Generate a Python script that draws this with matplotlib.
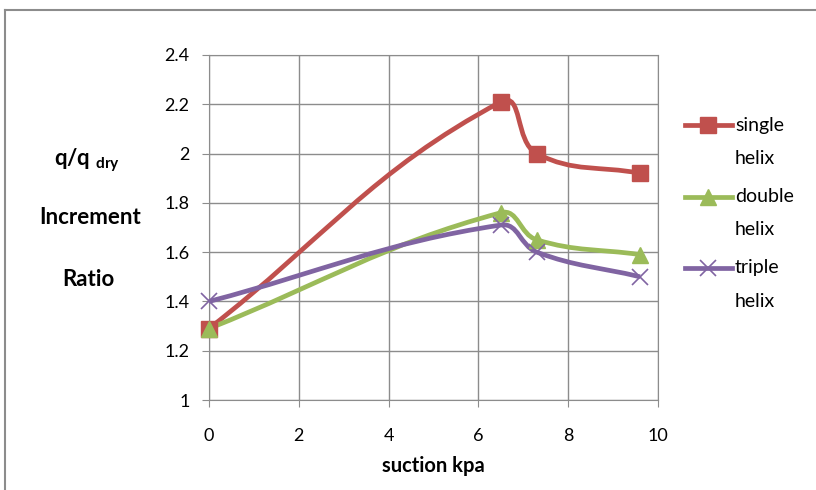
import matplotlib.pyplot as plt
import numpy as np
from matplotlib.path import Path
from matplotlib.patches import PathPatch
from matplotlib.lines import Line2D

plt.rcParams['font.family'] = ['Lato', 'DejaVu Sans']

suction = [0, 6.5, 7.3, 9.6]
single_helix = [1.29, 2.21, 2.00, 1.92]
double_helix = [1.29, 1.76, 1.65, 1.59]
triple_helix = [1.40, 1.71, 1.60, 1.50]

series = [
    (single_helix, '#C0504D', 's', 'single', 'helix'),
    (double_helix, '#9BBB59', '^', 'double', 'helix'),
    (triple_helix, '#8064A2', 'x', 'triple', 'helix'),
]

W, H = 816, 490
# pixels per data unit, used so the smoothing works in screen space
SX, SY = 449 / 10.0, 345 / 1.4


def smooth_path(x, y, t=0.4):
    # Excel-like smoothed line: cubic Bezier, tangent from neighbours,
    # handle length from the segment length
    pts = np.column_stack([np.array(x) * SX, np.array(y) * SY]).astype(float)
    n = len(pts)
    verts = [pts[0]]
    codes = [Path.MOVETO]

    def unit(v):
        d = np.hypot(*v)
        return v / d if d else v

    for i in range(n - 1):
        p0 = pts[i - 1] if i > 0 else pts[i]
        p1 = pts[i]
        p2 = pts[i + 1]
        p3 = pts[i + 2] if i + 2 < n else pts[i + 1]
        L = np.hypot(*(p2 - p1))
        c1 = p1 + unit(p2 - p0) * L * t
        c2 = p2 - unit(p3 - p1) * L * t
        verts += [c1, c2, p2]
        codes += [Path.CURVE4] * 3
    verts = np.array(verts) / [SX, SY]
    return Path(verts, codes)


fig = plt.figure(figsize=(W / 100, H / 100), dpi=100)
ax = fig.add_axes([209 / W, 1 - 400 / H, 449 / W, 345 / H])

for vals, col, mk, l1, l2 in series:
    ax.add_patch(PathPatch(smooth_path(suction, vals), facecolor='none',
                           edgecolor=col, lw=3.4, zorder=3, clip_on=False))
    ax.plot(suction, vals, ls='none', marker=mk, color=col, markersize=12,
            markeredgewidth=1.2 if mk == 'x' else 1, zorder=4, clip_on=False)

ax.set_xlim(0, 10)
ax.set_ylim(1, 2.4)
ax.set_xticks(np.arange(0, 11, 2))
ax.set_yticks([1, 1.2, 1.4, 1.6, 1.8, 2, 2.2, 2.4])
ax.set_yticklabels(['1', '1.2', '1.4', '1.6', '1.8', '2', '2.2', '2.4'])
ax.grid(True, color='#8c8c8c', lw=1)
ax.set_axisbelow(True)
for s in ax.spines.values():
    s.set_color('#8c8c8c')
ax.tick_params(colors='#8c8c8c', labelcolor='black', labelsize=13,
               length=5, direction='out')
ax.tick_params(axis='x', pad=15)
ax.tick_params(axis='y', pad=9)

ax.set_xlabel('suction kpa', fontsize=14.5, fontweight='bold', labelpad=9)

fig.text(87 / W, 1 - 160 / H, r'q/q $_{\mathregular{dry}}$', ha='center', va='center',
         fontsize=16, fontweight='bold')
fig.text(90 / W, 1 - 218 / H, 'Increment', ha='center', va='center',
         fontsize=16, fontweight='bold')
fig.text(88 / W, 1 - 280 / H, 'Ratio', ha='center', va='center',
         fontsize=16, fontweight='bold')

# legend drawn by hand so the handle sits on the first line of each label
for k, (vals, col, mk, l1, l2) in enumerate(series):
    yc = 125 + k * 71.5
    fig.add_artist(Line2D([685 / W, 732 / W], [1 - yc / H] * 2, color=col, lw=3.4))
    fig.add_artist(Line2D([708 / W], [1 - yc / H], color=col, marker=mk, markersize=12,
                          markeredgewidth=1.2 if mk == 'x' else 1))
    fig.text(735 / W, 1 - yc / H, l1, ha='left', va='center', fontsize=14)
    fig.text(735 / W, 1 - (yc + 33) / H, l2, ha='left', va='center', fontsize=14)

# outer chart border
fig.add_artist(Line2D([5 / W, 5 / W], [0, 1 - 10 / H], color='#8c8c8c', lw=1.5))
fig.add_artist(Line2D([5 / W, 1], [1 - 10 / H, 1 - 10 / H], color='#8c8c8c', lw=1.5))

fig.savefig('out.png', dpi=100)
